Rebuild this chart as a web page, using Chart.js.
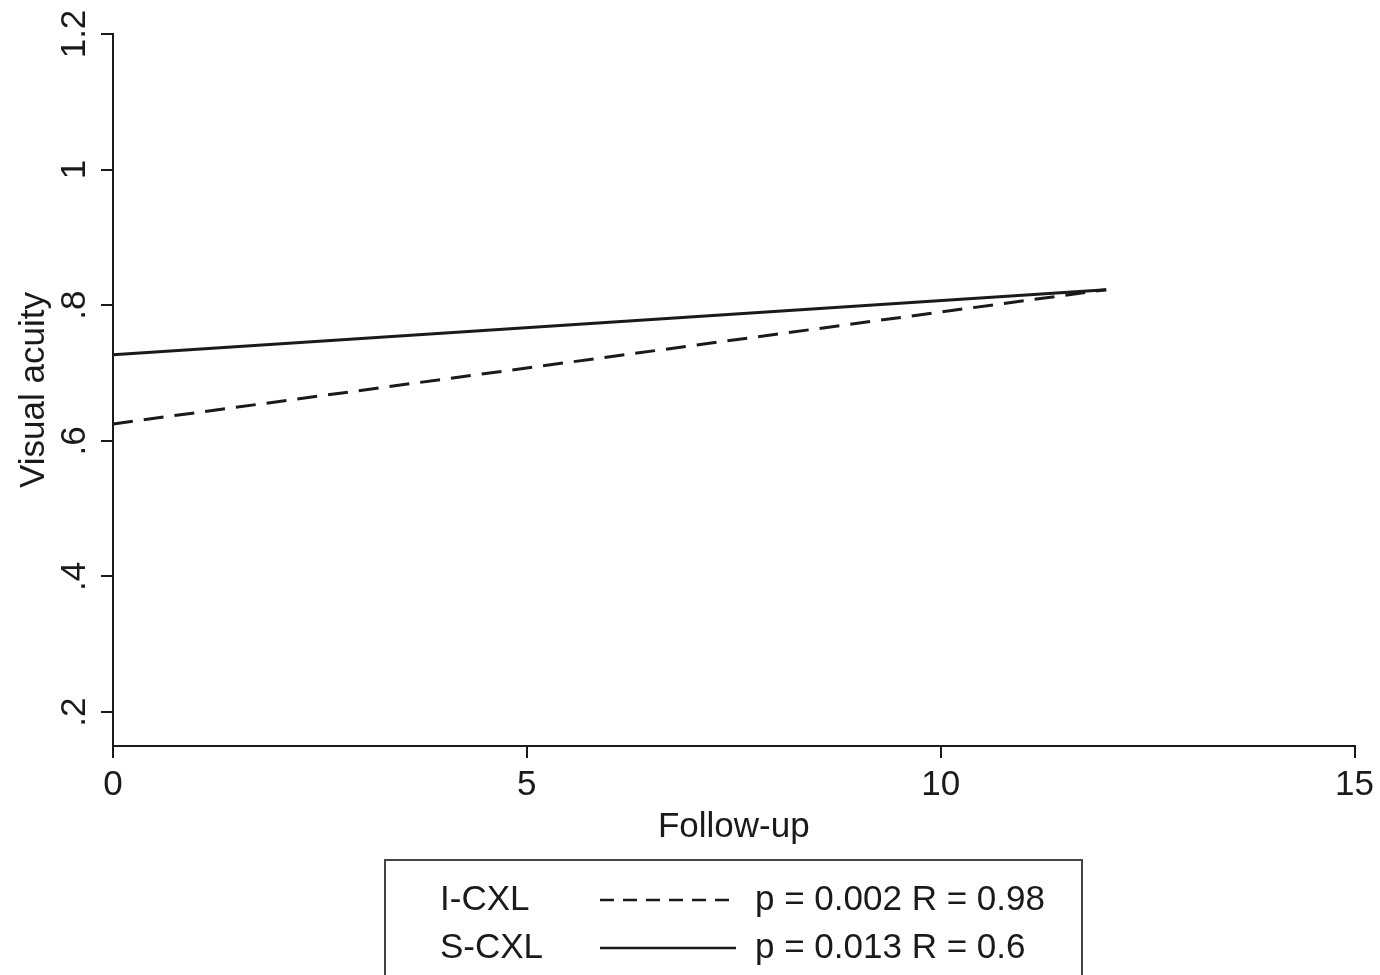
<!DOCTYPE html>
<html>
<head>
<meta charset="utf-8">
<script src="https://cdn.jsdelivr.net/npm/chart.js@4.4.0/dist/chart.umd.min.js"></script>
<style>
  html, body { margin: 0; padding: 0; background: #fff; }
  #wrap { width: 1380px; height: 975px; }
</style>
</head>
<body>
<div id="wrap"><canvas id="lineChart" width="1380" height="975"></canvas></div>
<script>
// data
const followUp = [0, 12];
const iCxl = [0.625, 0.823];
const sCxl = [0.727, 0.823];
const seriesNames = ['I-CXL', 'S-CXL'];
const seriesStats = ['p = 0.002 R = 0.98', 'p = 0.013 R = 0.6'];
const yTickValues = [0.2, 0.4, 0.6, 0.8, 1, 1.2];
const yTickLabels = ['.2', '.4', '.6', '.8', '1', '1.2'];
const xTickValues = [0, 5, 10, 15];

const FONT = '"Liberation Sans", Arial, Helvetica, sans-serif';
const INK = '#1a1a1a';

function pts(ys) {
  return followUp.map((x, i) => ({ x: x, y: ys[i] }));
}

// rotated y tick labels, axis titles and the legend box (Stata style)
const extras = {
  id: 'extras',
  afterDraw(chart) {
    const c = chart.ctx;
    const y = chart.scales.y;
    const area = chart.chartArea;
    c.save();
    c.fillStyle = INK;
    c.font = '35px ' + FONT;
    c.textAlign = 'center';
    c.textBaseline = 'alphabetic';
    yTickValues.forEach((v, i) => {
      c.save();
      c.translate(85, y.getPixelForValue(v));
      c.rotate(-Math.PI / 2);
      c.fillText(yTickLabels[i], 0, 0);
      c.restore();
    });
    // y title
    c.save();
    c.translate(44, (area.top + area.bottom) / 2);
    c.rotate(-Math.PI / 2);
    c.fillText('Visual acuity', 0, 0);
    c.restore();
    // x title
    c.fillText('Follow-up', (area.left + area.right) / 2, 837);

    // legend
    c.strokeStyle = '#444';
    c.lineWidth = 2;
    c.strokeRect(385, 860, 697, 140);
    const rows = [900, 948];
    chart.data.datasets.forEach((ds, i) => {
      c.textAlign = 'left';
      c.textBaseline = 'middle';
      c.fillStyle = INK;
      c.fillText(seriesNames[i], 440, rows[i]);
      c.fillText(seriesStats[i], 755, rows[i]);
      c.beginPath();
      c.setLineDash(ds.borderDash && ds.borderDash.length ? [14, 9] : []);
      c.lineWidth = 2.5;
      c.strokeStyle = INK;
      c.moveTo(600, rows[i]);
      c.lineTo(736, rows[i]);
      c.stroke();
      c.setLineDash([]);
    });
    c.restore();
  }
};

const ctx = document.getElementById('lineChart').getContext('2d');
new Chart(ctx, {
  type: 'line',
  data: {
    datasets: [{
      label: seriesNames[0],
      data: pts(iCxl),
      borderColor: INK,
      borderWidth: 3,
      borderDash: [20, 11],
      pointRadius: 0,
      fill: false
    }, {
      label: seriesNames[1],
      data: pts(sCxl),
      borderColor: INK,
      borderWidth: 3,
      pointRadius: 0,
      fill: false
    }]
  },
  options: {
    responsive: false,
    animation: false,
    layout: { padding: { left: 0, right: 25, top: 34, bottom: 0 } },
    plugins: {
      legend: { display: false },
      tooltip: { enabled: false }
    },
    scales: {
      x: {
        type: 'linear',
        min: 0,
        max: 15,
        afterBuildTicks: s => { s.ticks = xTickValues.map(v => ({ value: v })); },
        afterFit: s => { s.height = 229; },
        border: { color: INK, width: 2 },
        grid: { drawOnChartArea: false, drawTicks: true, tickLength: 12, color: INK, lineWidth: 2 },
        ticks: { color: INK, font: { size: 35, family: FONT }, padding: 6, maxRotation: 0 }
      },
      y: {
        type: 'linear',
        min: 0.15,
        max: 1.2,
        afterBuildTicks: s => { s.ticks = yTickValues.map(v => ({ value: v })); },
        afterFit: s => { s.width = 113; },
        border: { color: INK, width: 2 },
        grid: { drawOnChartArea: false, drawTicks: true, tickLength: 12, color: INK, lineWidth: 2 },
        ticks: { display: false }
      }
    }
  },
  plugins: [extras]
});
</script>
</body>
</html>
